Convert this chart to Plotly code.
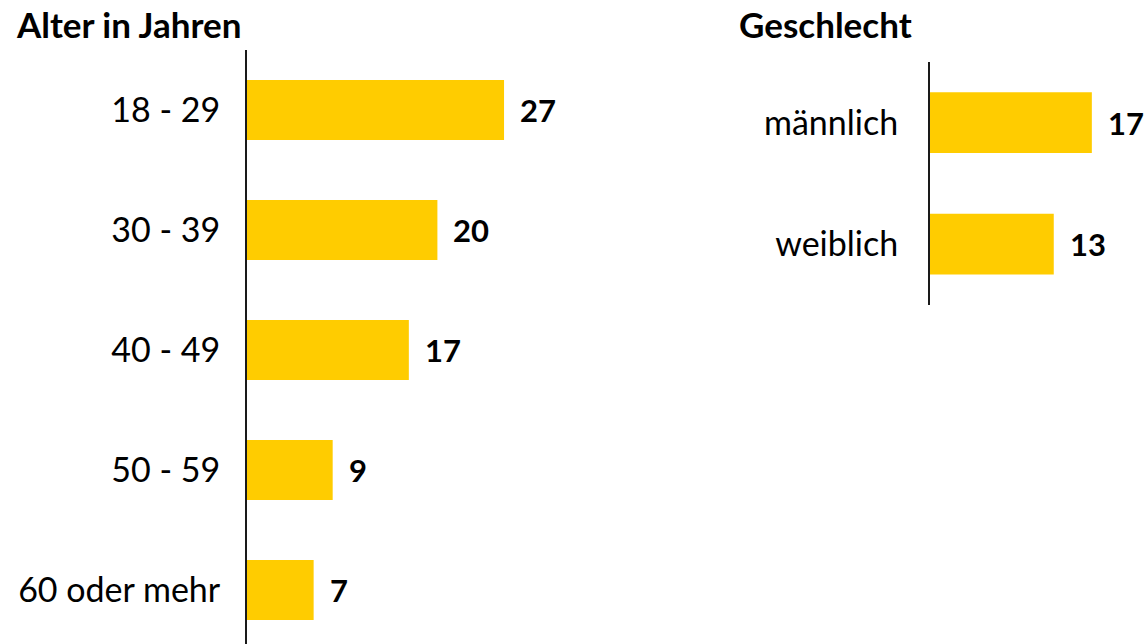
import plotly.graph_objects as go

age_categories = ["18 - 29", "30 - 39", "40 - 49", "50 - 59", "60 oder mehr"]
age_values = [27, 20, 17, 9, 7]
gender_categories = ["männlich", "weiblich"]
gender_values = [17, 13]

BAR = "#FFCC00"
FONT = "Lato"
W, H = 1148, 644
PX_PER_UNIT = 9.52

fig = go.Figure()
fig.add_trace(go.Bar(x=age_values, y=age_categories, orientation="h",
                     marker=dict(color=BAR, line=dict(width=0)), width=0.5,
                     xaxis="x", yaxis="y", hoverinfo="skip"))
fig.add_trace(go.Bar(x=gender_values, y=gender_categories, orientation="h",
                     marker=dict(color=BAR, line=dict(width=0)), width=0.5,
                     xaxis="x2", yaxis="y2", hoverinfo="skip"))

ann = []
for c, v in zip(age_categories, age_values):
    ann.append(dict(x=v, y=c, xref="x", yref="y", text=f"<b>{v}</b>", showarrow=False,
                    xanchor="left", yanchor="middle", xshift=14,
                    font=dict(family=FONT, size=31, color="black")))
for c, v in zip(gender_categories, gender_values):
    ann.append(dict(x=v, y=c, xref="x2", yref="y2", text=f"<b>{v}</b>", showarrow=False,
                    xanchor="left", yanchor="middle", xshift=14,
                    font=dict(family=FONT, size=31, color="black")))
ann.append(dict(x=14 / W, y=1 - 24 / H, xref="paper", yref="paper", text="<b>Alter in Jahren</b>",
                showarrow=False, xanchor="left", yanchor="middle",
                font=dict(family=FONT, size=35, color="black")))
ann.append(dict(x=737 / W, y=1 - 24 / H, xref="paper", yref="paper", text="<b>Geschlecht</b>",
                showarrow=False, xanchor="left", yanchor="middle",
                font=dict(family=FONT, size=35, color="black")))

x1_start, x1_end = 247 / W, 0.6
x2_start, x2_end = 930 / W, 1.0

fig.update_layout(
    width=W, height=H,
    margin=dict(l=0, r=0, t=0, b=0),
    paper_bgcolor="white", plot_bgcolor="white",
    showlegend=False,
    font=dict(family=FONT, size=34, color="black"),
    xaxis=dict(domain=[x1_start, x1_end], range=[0, (x1_end - x1_start) * W / PX_PER_UNIT],
               visible=False),
    yaxis=dict(domain=[0, 1 - 50 / H], range=[4.45, -0.5], type="category",
               showline=True, linecolor="#1a1a1a", linewidth=2, ticks="",
               showgrid=False, ticklabelstandoff=18, tickfont=dict(size=34)),
    xaxis2=dict(domain=[x2_start, x2_end], range=[0, (x2_end - x2_start) * W / PX_PER_UNIT],
                visible=False),
    yaxis2=dict(domain=[1 - 305 / H, 1 - 62 / H], range=[1.5, -0.5], type="category",
                anchor="x2", showline=True, linecolor="#1a1a1a", linewidth=2, ticks="",
                showgrid=False, ticklabelstandoff=23, tickfont=dict(size=34)),
    annotations=ann,
)

fig.write_html("out.html", config={"displayModeBar": False, "staticPlot": True},
               post_script="document.body.style.margin='0';document.body.style.overflow='hidden';")
